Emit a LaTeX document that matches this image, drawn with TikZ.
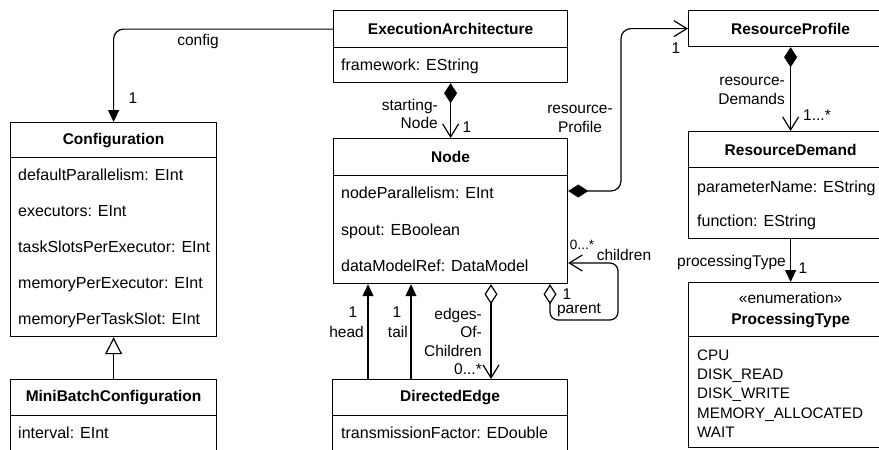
\documentclass[tikz,border=0pt]{standalone}
\usepackage{fontspec}
\setmainfont{Liberation Sans}
\usetikzlibrary{arrows.meta}
\newcommand\myfs{\fontsize{15.5}{18.5}\selectfont}
\newcommand\myattrfs{\fontsize{16}{19}\selectfont}
\begin{document}
\begin{tikzpicture}[x=1pt,y=-1pt,
  box/.style={draw, line width=1.2pt, inner sep=0pt, anchor=north west, font=\myfs\bfseries},
  cbox/.style={draw, line width=1.2pt, inner sep=0pt, anchor=north west},
  attr/.style={anchor=west, inner sep=0pt, font=\myattrfs, text height=11pt, text depth=1pt},
  item/.style={anchor=west, inner sep=0pt, font=\fontsize{15.2}{18}\selectfont, text height=11pt, text depth=1pt},
  lbl/.style={inner sep=0pt, font=\myfs},
  conn/.style={line width=1.2pt},
  fillarrow/.style={-{Triangle[length=12pt,width=11pt]}},
  compbarb/.style={{Diamond[length=20pt,width=13pt]}-{Straight Barb[length=13pt,width=16pt]}},
  aggbarb/.style={{Diamond[open,length=20pt,width=13pt]}-{Straight Barb[length=13pt,width=16pt]}},
  genarrow/.style={-{Triangle[open,length=17pt,width=17pt]}}
]
\useasboundingbox (0,0) rectangle (879,450);

% Configuration
\node[box, minimum width=206pt, minimum height=35pt] (confH) at (10,122) {Configuration};
\node[cbox, minimum width=206pt, minimum height=179pt] (confA) at (10,157) {};
\node[attr] (c1) at (18,175.5) {defaultParallelism: EInt};
\node[attr] (c2) at (18,211.5) {executors: EInt};
\node[attr] (c3) at (18,247.5) {taskSlotsPerExecutor: EInt};
\node[attr] (c4) at (18,283.5) {memoryPerExecutor: EInt};
\node[attr] (c5) at (18,319.5) {memoryPerTaskSlot: EInt};

% MiniBatchConfiguration
\node[box, minimum width=206pt, minimum height=36pt] (mbH) at (10,379) {MiniBatchConfiguration};
\node[cbox, minimum width=206pt, minimum height=50pt] (mbA) at (10,415) {};
\node[attr] (mb1) at (18,433) {interval: EInt};

% ExecutionArchitecture
\node[box, minimum width=234pt, minimum height=37pt] (eaH) at (333,10) {ExecutionArchitecture};
\node[cbox, minimum width=234pt, minimum height=35pt] (eaA) at (333,47) {};
\node[attr] (ea1) at (341,65) {framework: EString};

% Node
\node[box, minimum width=234pt, minimum height=37pt] (ndH) at (333,138) {Node};
\node[cbox, minimum width=234pt, minimum height=108pt] (ndA) at (333,175) {};
\node[attr] (n1) at (341,193) {nodeParallelism: EInt};
\node[attr] (n2) at (341,230) {spout: EBoolean};
\node[attr] (n3) at (341,266) {dataModelRef: DataModel};

% DirectedEdge
\node[box, minimum width=235pt, minimum height=36pt] (deH) at (332,379) {DirectedEdge};
\node[cbox, minimum width=235pt, minimum height=50pt] (deA) at (332,415) {};
\node[attr] (d1) at (341,433) {transmissionFactor: EDouble};

% ResourceProfile
\node[box, minimum width=204pt, minimum height=36pt] (rpH) at (688,10) {ResourceProfile};

% ResourceDemand
\node[box, minimum width=204pt, minimum height=36pt] (rdH) at (688,131) {ResourceDemand};
\node[cbox, minimum width=204pt, minimum height=71pt] (rdA) at (688,167) {};
\node[attr] (r1) at (697,187) {parameterName: EString};
\node[attr] (r2) at (697,221) {function: EString};

% ProcessingType
\node[box, minimum width=204pt, minimum height=54pt, align=center, font=\fontsize{15.5}{21}\selectfont\bfseries] (enH) at (688,282) {\mdseries«enumeration»\\ProcessingType};
\node[cbox, minimum width=204pt, minimum height=111pt] (enA) at (688,336) {};
\node[item] (e1) at (697,355) {CPU};
\node[item] (e2) at (697,374) {DISK\_READ};
\node[item] (e3) at (697,393.5) {DISK\_WRITE};
\node[item] (e4) at (697,413) {MEMORY\_ALLOCATED};
\node[item] (e5) at (697,432) {WAIT};

% connectors
\draw[conn, rounded corners=10pt, fillarrow] (eaH.west) -| (confH.north);
\draw[conn, compbarb] (eaA.south) -- (ndH.north);
\draw[conn, rounded corners=10pt, compbarb] (ndA.east |- 0,191) -| (rpH.west -| 621,0) -- (rpH.west);
\draw[conn, compbarb] (rpH.south) -- (rdH.north);
\draw[conn, fillarrow] (rdA.south) -- (enH.north);
\draw[conn, fillarrow] (deH.north -| 368,0) -- (ndA.south -| 368,0);
\draw[conn, fillarrow] (deH.north -| 411,0) -- (ndA.south -| 411,0);
\draw[conn, aggbarb] (ndA.south -| 491,0) -- (deH.north -| 491,0);
\draw[conn, rounded corners=8pt, aggbarb] (ndA.south -| 550,0) |- (618,320) |- (ndA.east |- 0,263);
\draw[conn, genarrow] (mbH.north) -- (confA.south);

% labels
\node[lbl] (lcfg) at (198,41) {config};
\node[lbl] (lcfg1) at (133,98) {1};
\node[lbl, align=right, anchor=east] (lsn) at (438,114) {starting-\\Node};
\node[lbl] (lsn1) at (467,127) {1};
\node[lbl, align=center] (lrp) at (580,119) {resource-\\Profile};
\node[lbl] (lrp1) at (676,48) {1};
\node[lbl, align=right, anchor=east] (lrd) at (785,91) {resource-\\Demands};
\node[lbl] (lrd1) at (817,115) {1...*};
\node[lbl, anchor=east] (lpt) at (786,262) {processingType};
\node[lbl] (lpt1) at (803,268) {1};
\node[lbl] (lh1) at (353,312) {1};
\node[lbl, anchor=east] (lh) at (364,332) {head};
\node[lbl] (lt1) at (397,312) {1};
\node[lbl, anchor=east] (lt) at (408,332) {tail};
\node[lbl, align=right, anchor=east] (leoc) at (482,341.5) {edges-\\Of-\\Children\\0...*};
\node[lbl, font=\fontsize{13.5}{16}\selectfont] (lc0) at (582,245) {0...*};
\node[lbl] (lc) at (624,255) {children};
\node[lbl] (lp1) at (567,294) {1};
\node[lbl] (lp) at (579,310) {parent};
\end{tikzpicture}
\end{document}
